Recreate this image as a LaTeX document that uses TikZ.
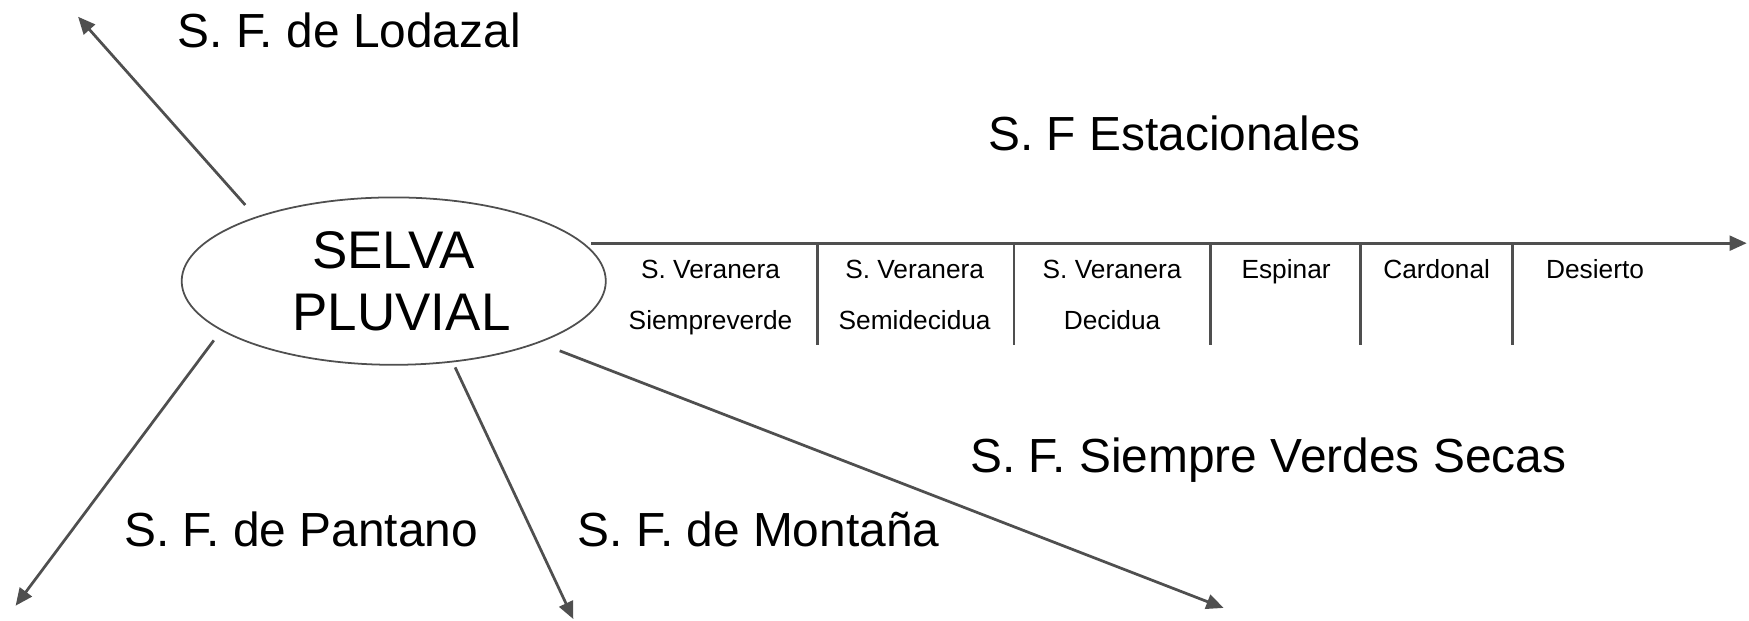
\documentclass[tikz,border=0pt]{standalone}
\usepackage{fontspec}
\setmainfont{Liberation Sans}
\usetikzlibrary{shapes.geometric,arrows.meta}
\definecolor{arrowgray}{HTML}{4F4F4F}
\tikzset{every path/.style={line width=0.7pt}}
\tikzset{
  arr/.style={draw=arrowgray,-{Triangle[length=4.4pt,width=3.8pt]}},
  biglabel/.style={anchor=base,font=\fontsize{12.2}{14}\selectfont},
  celltext/.style={anchor=base,font=\fontsize{6.7}{8}\selectfont},
}

\begin{document}
\begin{tikzpicture}[x=0.01cm,y=-0.01cm]
\useasboundingbox (0,0) rectangle (1568,556);
\node[draw=arrowgray,line width=0.45pt,ellipse,minimum width=3.8cm,minimum height=1.5cm,inner sep=0pt,align=center,font=\fontsize{13.5}{15.9}\selectfont] (selva) at (353,252) {SELVA\\\hspace*{0.14cm}PLUVIAL};
\coordinate (lodazal-tip) at (70,15);
\coordinate (pantano-tip) at (14,543);
\coordinate (montana-tip) at (514,555);
\coordinate (secas-tip) at (1097,545);
\coordinate (estac-start) at (530,218);
\coordinate (estac-tip) at (1566,218);
\draw[arr,shorten <=4pt] (selva.155) -- (lodazal-tip);
\draw[arr,shorten <=3.1pt] (selva.196) -- (pantano-tip);
\draw[arr,shorten <=1.4pt] (selva.306) -- (montana-tip);
\draw[arr,shorten <=5.6pt] (selva.337) -- (secas-tip);
\draw[arr] (estac-start) -- (estac-tip);
\draw[arrowgray] (733,218) -- (733,309);
\draw[arrowgray] (909,218) -- (909,309);
\draw[arrowgray] (1085,218) -- (1085,309);
\draw[arrowgray] (1220,218) -- (1220,309);
\draw[arrowgray] (1356,218) -- (1356,309);
\node[celltext] (siempre-a) at (637,249.5) {S. Veranera};
\node[celltext] (siempre-b) at (637,295) {Siempreverde};
\node[celltext] (semi-a) at (820,249.5) {S. Veranera};
\node[celltext] (semi-b) at (820,295) {Semidecidua};
\node[celltext] (decidua-a) at (997,249.5) {S. Veranera};
\node[celltext] (decidua-b) at (997,295) {Decidua};
\node[celltext] (espinar) at (1153,249.5) {Espinar};
\node[celltext] (cardonal) at (1288,249.5) {Cardonal};
\node[celltext] (desierto) at (1430,249.5) {Desierto};
\node[biglabel] (lodazal) at (313,43) {S. F. de Lodazal};
\node[biglabel] (estac) at (1053,135) {S. F Estacionales};
\node[biglabel] (secas) at (1137,424) {S. F. Siempre Verdes Secas};
\node[biglabel] (pantano) at (270,490) {S. F. de Pantano};
\node[biglabel] (montana) at (680,490) {S. F. de Montaña};
\end{tikzpicture}
\end{document}
